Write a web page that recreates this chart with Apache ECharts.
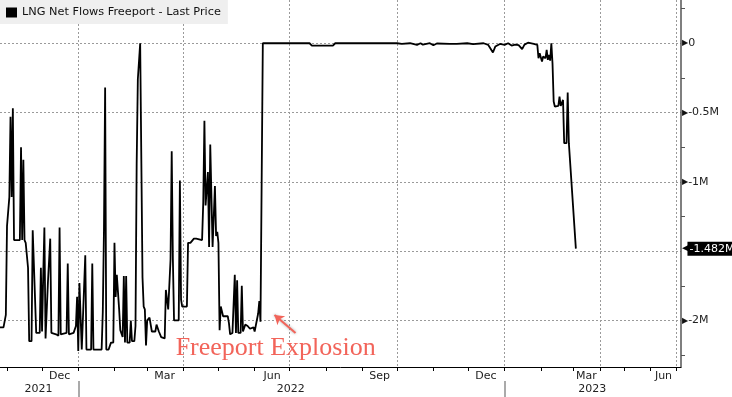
<!DOCTYPE html>
<html>
<head>
<meta charset="utf-8">
<script src="https://cdn.jsdelivr.net/npm/echarts@6/dist/echarts.min.js"></script>
<style>
  html, body { margin: 0; padding: 0; background: #fff; }
  #chart { width: 732px; height: 397px; }
</style>
</head>
<body>
<div id="chart"></div>
<script>
const seriesName = 'LNG Net Flows Freeport - Last Price';

// axis span: calendar days up to the last print, weekdays after it
const firstDay = '2021-10-26';
const lastDataDay = '2023-03-03';
const lastDay = '2023-07-07';

const monthNames = ['Jan', 'Feb', 'Mar', 'Apr', 'May', 'Jun', 'Jul', 'Aug', 'Sep', 'Oct', 'Nov', 'Dec'];
const labelledMonths = ['2021-12', '2022-03', '2022-06', '2022-09', '2022-12', '2023-03', '2023-06'];
const years = ['2021', '2022', '2023'];

// value axis, in millions
const yMin = -2.336;
const yMax = 0.312;
const yGrid = [0, -0.5, -1, -1.5, -2];
const yLabels = [0, -0.5, -1, -2]; // -1.5M sits under the last price tag
const yMinorTicks = [0.25, -0.25, -0.75, -1.25, -1.75, -2.25];

const flowDates = [
  '2021-10-26', '2021-10-29', '2021-10-31', '2021-11-01', '2021-11-02', '2021-11-03', '2021-11-04', '2021-11-05', '2021-11-06', '2021-11-07', '2021-11-12', '2021-11-13', '2021-11-14', '2021-11-15', '2021-11-16', '2021-11-17', '2021-11-19', '2021-11-20', '2021-11-22', '2021-11-23', '2021-11-24', '2021-11-26', '2021-11-29', '2021-11-30',
  '2021-12-01', '2021-12-02', '2021-12-03', '2021-12-04', '2021-12-06', '2021-12-08', '2021-12-09', '2021-12-13', '2021-12-15', '2021-12-16', '2021-12-17', '2021-12-22', '2021-12-23', '2021-12-24', '2021-12-28', '2021-12-30', '2021-12-31',
  '2022-01-01', '2022-01-02', '2022-01-04', '2022-01-07', '2022-01-08', '2022-01-12', '2022-01-13', '2022-01-14', '2022-01-21', '2022-01-22', '2022-01-23', '2022-01-24', '2022-01-25', '2022-01-27', '2022-01-29', '2022-01-31',
  '2022-02-01', '2022-02-02', '2022-02-03', '2022-02-04', '2022-02-05', '2022-02-06', '2022-02-08', '2022-02-09', '2022-02-10', '2022-02-11', '2022-02-12', '2022-02-14', '2022-02-15', '2022-02-16', '2022-02-18', '2022-02-19', '2022-02-20', '2022-02-21', '2022-02-23', '2022-02-24', '2022-02-25', '2022-02-26', '2022-02-27', '2022-02-28',
  '2022-03-01', '2022-03-03', '2022-03-05', '2022-03-08', '2022-03-09', '2022-03-11', '2022-03-13', '2022-03-16', '2022-03-17', '2022-03-18', '2022-03-19', '2022-03-21', '2022-03-22', '2022-03-23', '2022-03-24', '2022-03-28', '2022-03-29', '2022-03-30', '2022-03-31',
  '2022-04-04', '2022-04-05', '2022-04-07', '2022-04-10', '2022-04-12', '2022-04-17', '2022-04-18', '2022-04-19', '2022-04-20', '2022-04-21', '2022-04-22', '2022-04-23', '2022-04-24', '2022-04-25', '2022-04-26', '2022-04-28', '2022-04-29', '2022-04-30',
  '2022-05-01', '2022-05-02', '2022-05-03', '2022-05-05', '2022-05-09', '2022-05-10', '2022-05-11', '2022-05-13', '2022-05-15', '2022-05-16', '2022-05-17', '2022-05-18', '2022-05-20', '2022-05-21', '2022-05-22', '2022-05-24', '2022-05-26', '2022-05-28', '2022-05-31',
  '2022-06-01', '2022-06-04', '2022-06-05', '2022-06-06', '2022-06-07', '2022-06-08',
  '2022-07-18', '2022-07-20', '2022-08-07', '2022-08-09', '2022-10-01', '2022-10-05', '2022-10-12', '2022-10-18', '2022-10-21', '2022-10-23', '2022-10-29',
  '2022-11-01', '2022-11-04', '2022-11-15', '2022-11-21', '2022-11-30', '2022-12-05', '2022-12-14', '2022-12-18', '2022-12-22', '2022-12-24', '2022-12-28',
  '2023-01-01', '2023-01-04', '2023-01-07', '2023-01-10', '2023-01-13', '2023-01-16', '2023-01-18', '2023-01-21', '2023-01-26', '2023-01-29', '2023-01-30', '2023-01-31',
  '2023-02-02', '2023-02-03', '2023-02-05', '2023-02-06', '2023-02-07', '2023-02-08', '2023-02-09', '2023-02-10', '2023-02-11', '2023-02-12', '2023-02-13', '2023-02-16', '2023-02-17', '2023-02-18', '2023-02-19', '2023-02-20', '2023-02-21', '2023-02-23', '2023-02-24', '2023-02-25', '2023-03-03'
];
const flowValues = [
  -2.05, -2.05, -1.96, -1.32, -1.32, -1.11, -0.53, -1.11, -0.47, -1.42, -1.42, -0.75, -1.42, -0.84, -1.42, -1.44, -1.62, -2.15, -2.15, -1.35, -1.36, -2.09, -2.09, -1.62,
  -2.08, -1.68, -1.33, -2.13, -1.73, -1.41, -2.09, -2.10, -2.11, -1.33, -2.10, -2.09, -1.59, -2.10, -2.09, -2.04, -1.83,
  -2.22, -1.73, -2.21, -1.53, -2.21, -2.21, -1.59, -2.21, -2.21, -1.94, -1.35, -0.32, -2.21, -2.21, -2.16, -2.16,
  -1.44, -1.83, -1.67, -1.68, -1.92, -2.07, -2.12, -1.68, -2.16, -1.68, -2.16, -2.16, -2.00, -2.15, -2.15, -2.04, -0.87, -0.26, 0, 0, -1.69, -1.90, -1.92, -2.18,
  -2.00, -1.98, -2.08, -2.08, -2.03, -2.08, -2.12, -2.13, -1.78, -1.78, -1.92, -1.56, -0.78, -1.56, -2.00, -2.00, -0.99, -1.85, -1.90,
  -1.90, -1.44, -1.44, -1.41, -1.41, -1.42, -1.15, -0.56, -1.17, -1.17, -0.93, -1.47, -0.73, -0.73, -1.47, -1.03, -1.39, -1.36,
  -1.44, -2.07, -1.90, -1.97, -1.97, -2.02, -2.10, -2.09, -1.67, -2.09, -1.71, -2.09, -2.09, -1.75, -2.08, -2.03, -2.04, -2.06, -2.05,
  -2.08, -1.95, -1.86, -2.01, -2.02, 0,
  0, -0.017, -0.017, 0, 0, -0.005, 0, -0.012, 0, -0.01, 0,
  -0.015, -0.002, -0.005, -0.005, 0, -0.007, 0, -0.012, -0.067, -0.024, -0.005,
  -0.012, 0, -0.017, -0.01, -0.014, -0.043, -0.01, 0.004, -0.005, -0.012, -0.108, -0.072,
  -0.132, -0.096, -0.108, -0.048, -0.12, -0.084, -0.125, 0, -0.144, -0.42, -0.457, -0.452, -0.385, -0.452, -0.452, -0.409, -0.721, -0.721, -0.356, -0.721, -1.482
];

const noteText = 'Freeport Explosion';
const notePoint = ['2022-06-19', -2.198];
const arrowTail = ['2022-07-06', -2.09];
const arrowHead = ['2022-06-18', -1.96];
const noteColor = '#f2645a';

// build the day categories
const days = [];
for (let t = Date.parse(firstDay); t <= Date.parse(lastDay); t += 864e5) {
    const d = new Date(t);
    const s = d.toISOString().slice(0, 10);
    const wd = d.getUTCDay();
    if (s <= lastDataDay || (wd !== 0 && wd !== 6)) days.push(s);
}

const monthStart = new Set();
const quarterStart = new Set();
const yearStart = new Set();
days.forEach((s, i) => {
    if (i > 0 && s.slice(0, 7) !== days[i - 1].slice(0, 7)) {
        monthStart.add(i);
        const m = +s.slice(5, 7);
        if (m % 3 === 1) quarterStart.add(i);
        if (m === 1) yearStart.add(i);
    }
});

function midOf(prefix) {
    const a = days.findIndex(s => s.startsWith(prefix));
    let b = a;
    while (b < days.length - 1 && days[b + 1].startsWith(prefix)) b++;
    if (b < days.length - 1) b++;
    return Math.floor((a + b) / 2);
}
const monthLabelAt = new Set(labelledMonths.map(midOf));
const yearLabelAt = new Set(years.map(midOf));

function fmtM(v) {
    return v === 0 ? '0' : v + 'M';
}

const lastValue = flowValues[flowValues.length - 1];

const chartDom = document.getElementById('chart');
const myChart = echarts.init(chartDom);

const option = {
    animation: false,
    backgroundColor: '#fff',
    textStyle: { fontFamily: 'DejaVu Sans' },
    legend: {
        left: 0,
        top: 0,
        padding: [7, 7, 6, 6],
        backgroundColor: '#efefef',
        itemWidth: 11,
        itemHeight: 10,
        textStyle: { fontFamily: 'DejaVu Sans', fontSize: 11.3, color: '#111' },
        data: [{ name: seriesName, icon: 'rect' }]
    },
    grid: { left: 0, right: 51, top: 0, bottom: 30, outerBoundsMode: 'none', containLabel: false },
    xAxis: [
        {
            type: 'category',
            position: 'bottom',
            data: days,
            boundaryGap: false,
            axisLine: { onZero: false, lineStyle: { color: '#000', width: 1 } },
            axisTick: {
                interval: i => monthStart.has(i),
                length: 4,
                lineStyle: { color: '#000' }
            },
            axisLabel: {
                interval: i => monthLabelAt.has(i),
                formatter: v => monthNames[+v.slice(5, 7) - 1],
                margin: 4,
                fontSize: 11,
                color: '#222'
            },
            splitLine: {
                show: true,
                interval: i => quarterStart.has(i),
                lineStyle: { color: '#9a9a9a', type: [2, 2], width: 1 }
            }
        },
        {
            type: 'category',
            position: 'bottom',
            offset: 14,
            data: days,
            boundaryGap: false,
            axisLine: { show: false, onZero: false },
            axisTick: {
                interval: i => yearStart.has(i),
                length: 16,
                lineStyle: { color: '#aaa', width: 2 }
            },
            axisLabel: {
                interval: i => yearLabelAt.has(i),
                formatter: v => v.slice(0, 4),
                margin: 3,
                fontSize: 11,
                color: '#222'
            },
            splitLine: { show: false }
        }
    ],
    yAxis: [
        {
            type: 'value',
            position: 'right',
            min: yMin,
            max: yMax,
            axisLine: { show: false, onZero: false },
            axisTick: { show: false, customValues: yGrid },
            axisLabel: {
                customValues: yLabels,
                margin: 1,
                formatter: v => '{m|▶}{t|' + fmtM(v) + '}',
                rich: {
                    m: { fontSize: 8, color: '#111' },
                    t: { fontSize: 11, color: '#222', fontFamily: 'DejaVu Sans' }
                }
            },
            splitLine: { show: true, lineStyle: { color: '#9a9a9a', type: [2, 2], width: 1 } }
        },
        {
            type: 'value',
            position: 'right',
            min: yMin,
            max: yMax,
            axisLine: { show: true, onZero: false, lineStyle: { color: '#555', width: 1.5 } },
            axisTick: { show: true, length: 4, customValues: yMinorTicks, lineStyle: { color: '#555' } },
            axisLabel: {
                customValues: [lastValue],
                margin: 1,
                formatter: v => '{p|◀}{b|' + v.toFixed(3) + 'M}',
                rich: {
                    p: { fontSize: 11, color: '#000', padding: [0, -3, 0, 0] },
                    b: { fontSize: 11, color: '#fff', backgroundColor: '#000', padding: [2, 3, 1, 2] }
                }
            },
            splitLine: { show: false }
        }
    ],
    series: [
        {
            name: seriesName,
            type: 'line',
            xAxisIndex: 0,
            yAxisIndex: 0,
            data: flowDates.map((d, i) => [d, flowValues[i]]),
            symbol: 'none',
            showSymbol: false,
            lineStyle: { color: '#000', width: 1.8 },
            itemStyle: { color: '#000' },
            markLine: {
                silent: true,
                symbol: ['none', 'arrow'],
                symbolSize: 9,
                label: { show: false },
                lineStyle: {
                    color: noteColor,
                    width: 2,
                    type: 'solid',
                    shadowBlur: 3,
                    shadowColor: 'rgba(0,0,0,0.35)'
                },
                data: [[{ coord: arrowTail }, { coord: arrowHead }]]
            },
            markPoint: {
                silent: true,
                symbol: 'circle',
                symbolSize: 1,
                itemStyle: { color: 'rgba(0,0,0,0)' },
                label: {
                    show: true,
                    position: 'inside',
                    formatter: noteText,
                    fontFamily: 'Liberation Serif',
                    fontSize: 26,
                    color: noteColor
                },
                data: [{ coord: notePoint }]
            }
        }
    ]
};

myChart.setOption(option);
window.addEventListener('resize', myChart.resize);
</script>
</body>
</html>
